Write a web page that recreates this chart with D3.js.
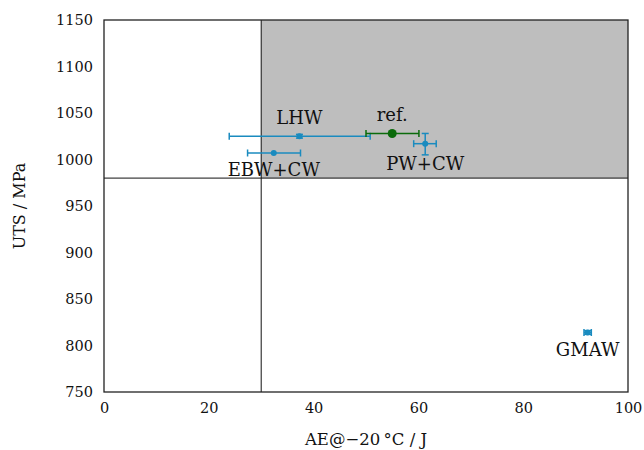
<!DOCTYPE html>
<html>
<head>
<meta charset="utf-8">
<script src="https://cdn.jsdelivr.net/npm/d3@7"></script>
<style>
  body { margin: 0; background: #fff; }
  svg text { font-family: "DejaVu Serif", serif; fill: #111; }
</style>
</head>
<body>
<svg width="644" height="450"></svg>
<script>
// Data
var names   = ["LHW", "EBW+CW", "PW+CW", "GMAW", "ref."];
var ae      = [37.3, 32.4, 61.3, 92.3, 55.0];
var aeLo    = [23.9, 27.4, 59.1, 91.6, 50.0];
var aeHi    = [50.8, 37.5, 63.4, 93.0, 60.1];
var uts     = [1025, 1007, 1017, 814, 1028];
var utsLo   = [1023, 1007, 1005, 812, 1028];
var utsHi   = [1027, 1007, 1028, 816, 1028];
var colors  = ["#1a8bbf", "#1a8bbf", "#1a8bbf", "#1a8bbf", "#0b6b0b"];
var xTicks  = [0, 20, 40, 60, 80, 100];
var yTicks  = [750, 800, 850, 900, 950, 1000, 1050, 1100, 1150];
var aeLimit = 30, utsLimit = 980;

var font = "DejaVu Serif, serif";
var svg = d3.select("svg");
var x = d3.scaleLinear().domain([0, 100]).range([104, 628]);
var y = d3.scaleLinear().domain([750, 1150]).range([392, 20]);

// shaded acceptance region
svg.append("rect")
    .attr("x", x(aeLimit)).attr("y", y(1150))
    .attr("width", x(100) - x(aeLimit)).attr("height", y(utsLimit) - y(1150))
    .attr("fill", "#bebebe");

// limit lines
svg.append("line")
    .attr("x1", x(aeLimit)).attr("x2", x(aeLimit))
    .attr("y1", y(750)).attr("y2", y(1150))
    .attr("stroke", "#111").attr("stroke-width", 1);
svg.append("line")
    .attr("x1", x(0)).attr("x2", x(100))
    .attr("y1", y(utsLimit)).attr("y2", y(utsLimit))
    .attr("stroke", "#111").attr("stroke-width", 1);

// frame
svg.append("rect")
    .attr("x", x(0)).attr("y", y(1150))
    .attr("width", x(100) - x(0)).attr("height", y(750) - y(1150))
    .attr("fill", "none").attr("stroke", "#222").attr("stroke-width", 1.3);

// axes (labels only, no tick marks)
var xAxis = svg.append("g").attr("transform", "translate(0," + y(750) + ")")
    .call(d3.axisBottom(x).tickValues(xTicks).tickSize(0).tickPadding(11).tickFormat(d3.format("d")));
var yAxis = svg.append("g").attr("transform", "translate(" + x(0) + ",0)")
    .call(d3.axisLeft(y).tickValues(yTicks).tickSize(0).tickPadding(11).tickFormat(d3.format("d")));
[xAxis, yAxis].forEach(function(a) {
  a.attr("font-family", font).attr("font-size", 14.5);
  a.select(".domain").remove();
  a.selectAll("text").style("font-family", font).style("font-size", "14.5px").attr("fill", "#111");
});

svg.append("text")
    .attr("x", (x(0) + x(100)) / 2).attr("y", 445)
    .attr("text-anchor", "middle").style("font-size", "16.5px")
    .text("AE@\u221220\u2009\u00b0C  /  J");
svg.append("text")
    .attr("transform", "translate(25," + (y(950)) + ") rotate(-90)")
    .attr("text-anchor", "middle").style("font-size", "16px")
    .text("UTS  /  MPa");

// error bars and points
var idx = d3.range(names.length);
var cap = 3.5;
var g = svg.append("g");
idx.forEach(function(i) {
  var c = colors[i];
  var cx = x(ae[i]), cy = y(uts[i]);
  if (aeHi[i] > aeLo[i]) {
    g.append("line").attr("x1", x(aeLo[i])).attr("x2", x(aeHi[i])).attr("y1", cy).attr("y2", cy)
      .attr("stroke", c).attr("stroke-width", 1.5);
    [aeLo[i], aeHi[i]].forEach(function(v) {
      g.append("line").attr("x1", x(v)).attr("x2", x(v)).attr("y1", cy - cap).attr("y2", cy + cap)
        .attr("stroke", c).attr("stroke-width", 1.5);
    });
  }
  if (utsHi[i] > utsLo[i]) {
    g.append("line").attr("x1", cx).attr("x2", cx).attr("y1", y(utsLo[i])).attr("y2", y(utsHi[i]))
      .attr("stroke", c).attr("stroke-width", 1.5);
    [utsLo[i], utsHi[i]].forEach(function(v) {
      g.append("line").attr("x1", cx - cap).attr("x2", cx + cap).attr("y1", y(v)).attr("y2", y(v))
        .attr("stroke", c).attr("stroke-width", 1.5);
    });
  }
  g.append("circle").attr("cx", cx).attr("cy", cy)
    .attr("r", names[i] === "ref." ? 4.5 : 3).attr("fill", c);
});

// point labels
var labelDx = [0, 0, 0, 0, 0];
var labelDy = [-12, 23, 26, 24, -12];
idx.forEach(function(i) {
  svg.append("text")
    .attr("x", x(ae[i]) + labelDx[i]).attr("y", y(uts[i]) + labelDy[i])
    .attr("text-anchor", "middle").style("font-size", "18px")
    .text(names[i]);
});
</script>
</body>
</html>
